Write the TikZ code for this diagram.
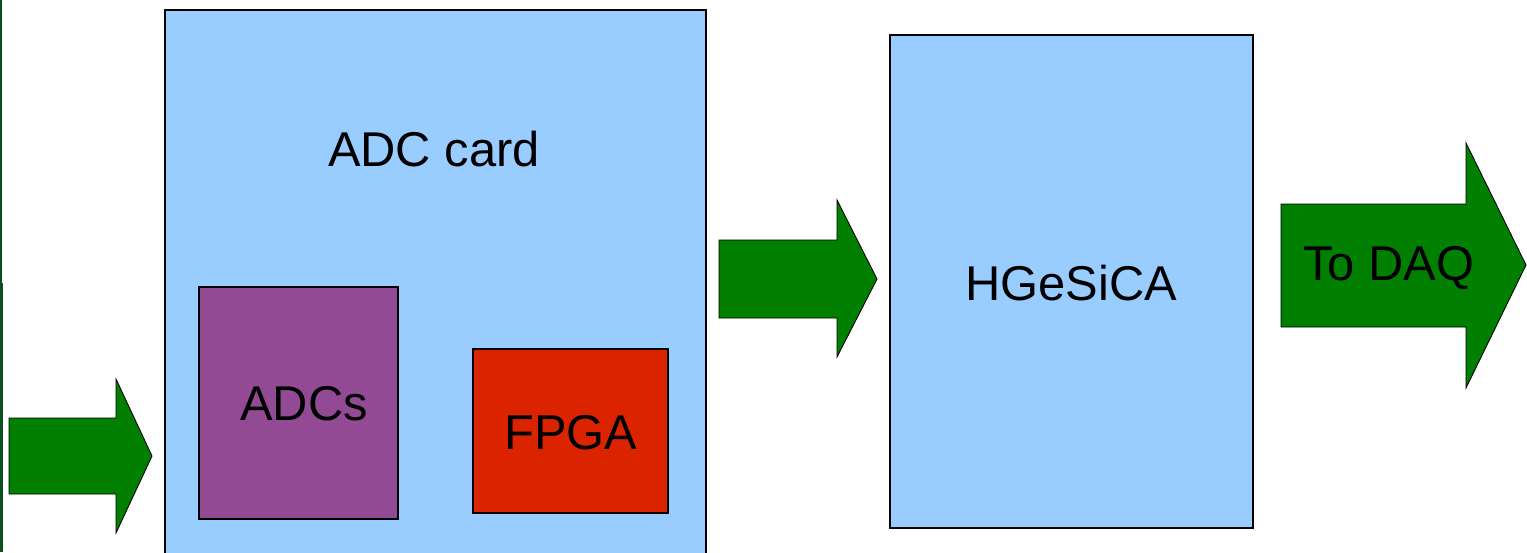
\documentclass[tikz,border=0pt]{standalone}
\usepackage{fontspec}
\setmainfont{Liberation Sans}
\definecolor{boxblue}{HTML}{99CCFF}
\definecolor{adcpurple}{HTML}{924A94}
\definecolor{fpgared}{HTML}{DC2300}
\definecolor{arrgreen}{HTML}{007F00}
\definecolor{edgegreen}{HTML}{0B4F1E}
\tikzset{
  blk/.style={draw=black, line width=0.6pt},
  fatarrow/.style={draw=black, line width=0.5pt, fill=arrgreen},
  lbl/.style={font=\fontsize{27.8}{33}\selectfont, text=black, inner sep=0pt},
}
\begin{document}
\begin{tikzpicture}[x=0.02cm, y=-0.02cm]
\useasboundingbox (0,0) rectangle (1527,552);
% left edge strip
\fill[edgegreen] (0,0) rectangle (2,283);
\fill[edgegreen] (0,283) rectangle (3,552);
% ADC card
\begin{scope}
\clip (0,0) rectangle (1527,552);
\draw[blk, fill=boxblue] (165,10) rectangle (706,560);
\end{scope}
\node[lbl] (adccard) at (434,149) {ADC card};
% ADCs
\draw[blk, fill=adcpurple] (199,287) rectangle (398,519);
\node[lbl] (adcs) at (304,404) {ADCs};
% FPGA
\draw[blk, fill=fpgared] (473,349) rectangle (668,513);
\node[lbl] (fpga) at (571,433) {FPGA};
% HGeSiCA
\draw[blk, fill=boxblue] (890,35) rectangle (1253,528);
\node[lbl] (hgesica) at (1071,283) {HGeSiCA};
% arrow 1
\draw[fatarrow] (9,418) -- (116,418) -- (116,379) -- (152,456) -- (116,533) -- (116,494) -- (9,494) -- cycle;
% arrow 2
\draw[fatarrow] (719,240) -- (837,240) -- (837,200) -- (877,279) -- (837,357) -- (837,318) -- (719,318) -- cycle;
% arrow 3
\draw[fatarrow] (1281,204) -- (1466,204) -- (1466,143) -- (1526,265) -- (1466,388) -- (1466,327) -- (1281,327) -- cycle;
\node[lbl] (todaq) at (1389,268) {To DAQ};
\end{tikzpicture}
\end{document}
